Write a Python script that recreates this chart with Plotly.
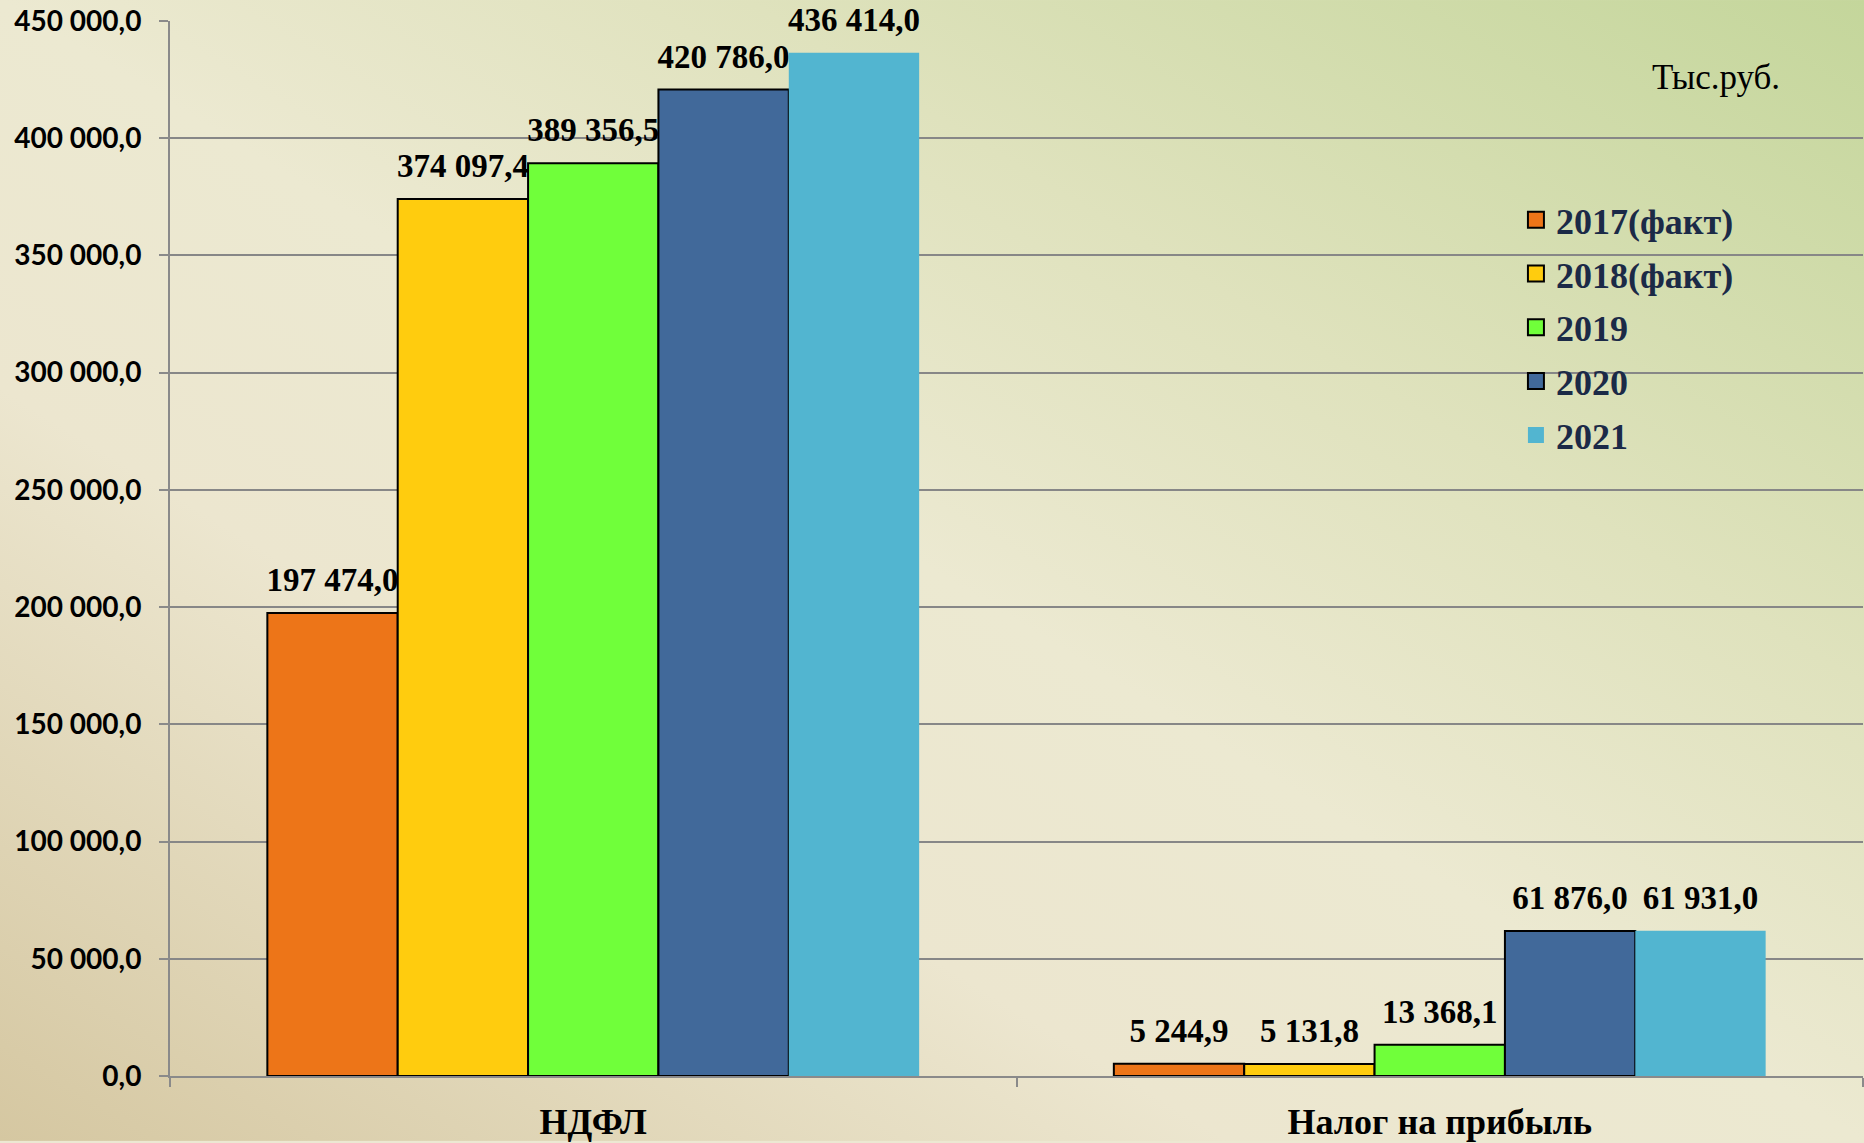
import base64
import plotly.graph_objects as go

categories = ["НДФЛ", "Налог на прибыль"]
series_names = ["2017(факт)", "2018(факт)", "2019", "2020", "2021"]
values_2017 = [197474.0, 5244.9]
values_2018 = [374097.4, 5131.8]
values_2019 = [389356.5, 13368.1]
values_2020 = [420786.0, 61876.0]
values_2021 = [436414.0, 61931.0]
series_values = [values_2017, values_2018, values_2019, values_2020, values_2021]
y_ticks = [0, 50000, 100000, 150000, 200000, 250000, 300000, 350000, 400000, 450000]

colors = ["#ED7518", "#FFCC0E", "#70FF3A", "#41699A", "#52B5D0"]
outline = [2, 2, 2, 2, 0]

W, H = 1864, 1143
ML, MR, MT, MB = 170, 1, 21, 65
PW, PH = W - ML - MR, H - MT - MB
GAP = 0.23

fig = go.Figure()
for i, (name, vals) in enumerate(zip(series_names, series_values)):
    fig.add_trace(go.Bar(
        x=categories, y=vals, name=name, showlegend=False,
        marker=dict(color=colors[i], line=dict(color="black", width=outline[i])),
        offsetgroup=str(i), hoverinfo="x+y",
    ))
for i, (name, vals) in enumerate(zip(series_names, series_values)):
    # value labels, grouped like the bars
    fig.add_trace(go.Scatter(
        x=categories, y=vals, mode="markers+text", showlegend=False,
        marker=dict(size=20, opacity=0),
        texttemplate="%{y:,.1f}", textposition="top center",
        textfont=dict(family="Liberation Serif", size=33, color="black", weight="bold"),
        cliponaxis=False, offsetgroup=str(i), hoverinfo="skip",
    ))
for i, name in enumerate(series_names):
    # legend entries
    fig.add_trace(go.Scatter(
        x=[None], y=[None], mode="markers", name=name, showlegend=True,
        marker=dict(symbol="square", size=17, color=colors[i],
                    line=dict(color="black", width=outline[i])),
        legendgroup=name,
    ))

svg = f'''<svg xmlns="http://www.w3.org/2000/svg" width="{W}" height="{H}" viewBox="0 0 {W} {H}" preserveAspectRatio="none">
<defs><linearGradient id="g" x1="0" y1="1" x2="1" y2="0">
<stop offset="0" stop-color="#d5c7a1"/>
<stop offset="0.33" stop-color="#ece6cf"/>
<stop offset="0.5" stop-color="#ece9d1"/>
<stop offset="0.7" stop-color="#dfe2bd"/>
<stop offset="1" stop-color="#c4d69b"/>
</linearGradient></defs>
<rect width="{W}" height="{H}" fill="url(#g)"/></svg>'''
src = "data:image/svg+xml;base64," + base64.b64encode(svg.encode()).decode()

fig.update_layout(
    width=W, height=H,
    margin=dict(l=ML, r=MR, t=MT, b=MB, pad=0),
    separators=", ",
    barmode="group", bargap=GAP, bargroupgap=0,
    scattermode="group", scattergap=GAP,
    paper_bgcolor="#ece8d2", plot_bgcolor="rgba(0,0,0,0)",
    images=[dict(source=src, xref="paper", yref="paper",
                 x=-ML / PW, y=1 + MT / PH, sizex=W / PW, sizey=H / PH,
                 xanchor="left", yanchor="top", sizing="stretch", layer="below")],
    showlegend=True,
    legend=dict(x=0.795, y=0.840, xanchor="left", yanchor="top",
                bgcolor="rgba(0,0,0,0)", tracegroupgap=4, itemsizing="trace",
                font=dict(family="Liberation Serif", size=36, color="#1b2a47", weight="bold"),
                itemwidth=30),
    annotations=[dict(text="Тыс.руб.", xref="paper", yref="paper", x=0.913, y=0.946,
                      showarrow=False, xanchor="center", yanchor="middle",
                      font=dict(family="Liberation Serif", size=35, color="black"))],
)
fig.update_yaxes(
    range=[0, 450000], tickvals=y_ticks, tickformat=",.1f",
    showgrid=True, gridcolor="#878787", gridwidth=2,
    showline=True, linecolor="#8a8a8a", linewidth=2,
    ticks="outside", ticklen=9, tickcolor="#8a8a8a", tickwidth=2,
    tickfont=dict(family="Lato", size=28, color="black", weight="bold"),
    ticklabelstandoff=12,
    zeroline=False,
)
fig.update_xaxes(
    showline=True, linecolor="#8a8a8a", linewidth=2,
    ticks="outside", tickson="boundaries", ticklen=9, tickcolor="#8a8a8a", tickwidth=2,
    tickfont=dict(family="Liberation Serif", size=36, color="black", weight="bold"),
    ticklabelstandoff=13,
)

fig.write_html("out.html", config={"displayModeBar": False},
               post_script="document.body.style.margin='0';document.body.style.overflow='hidden';")
